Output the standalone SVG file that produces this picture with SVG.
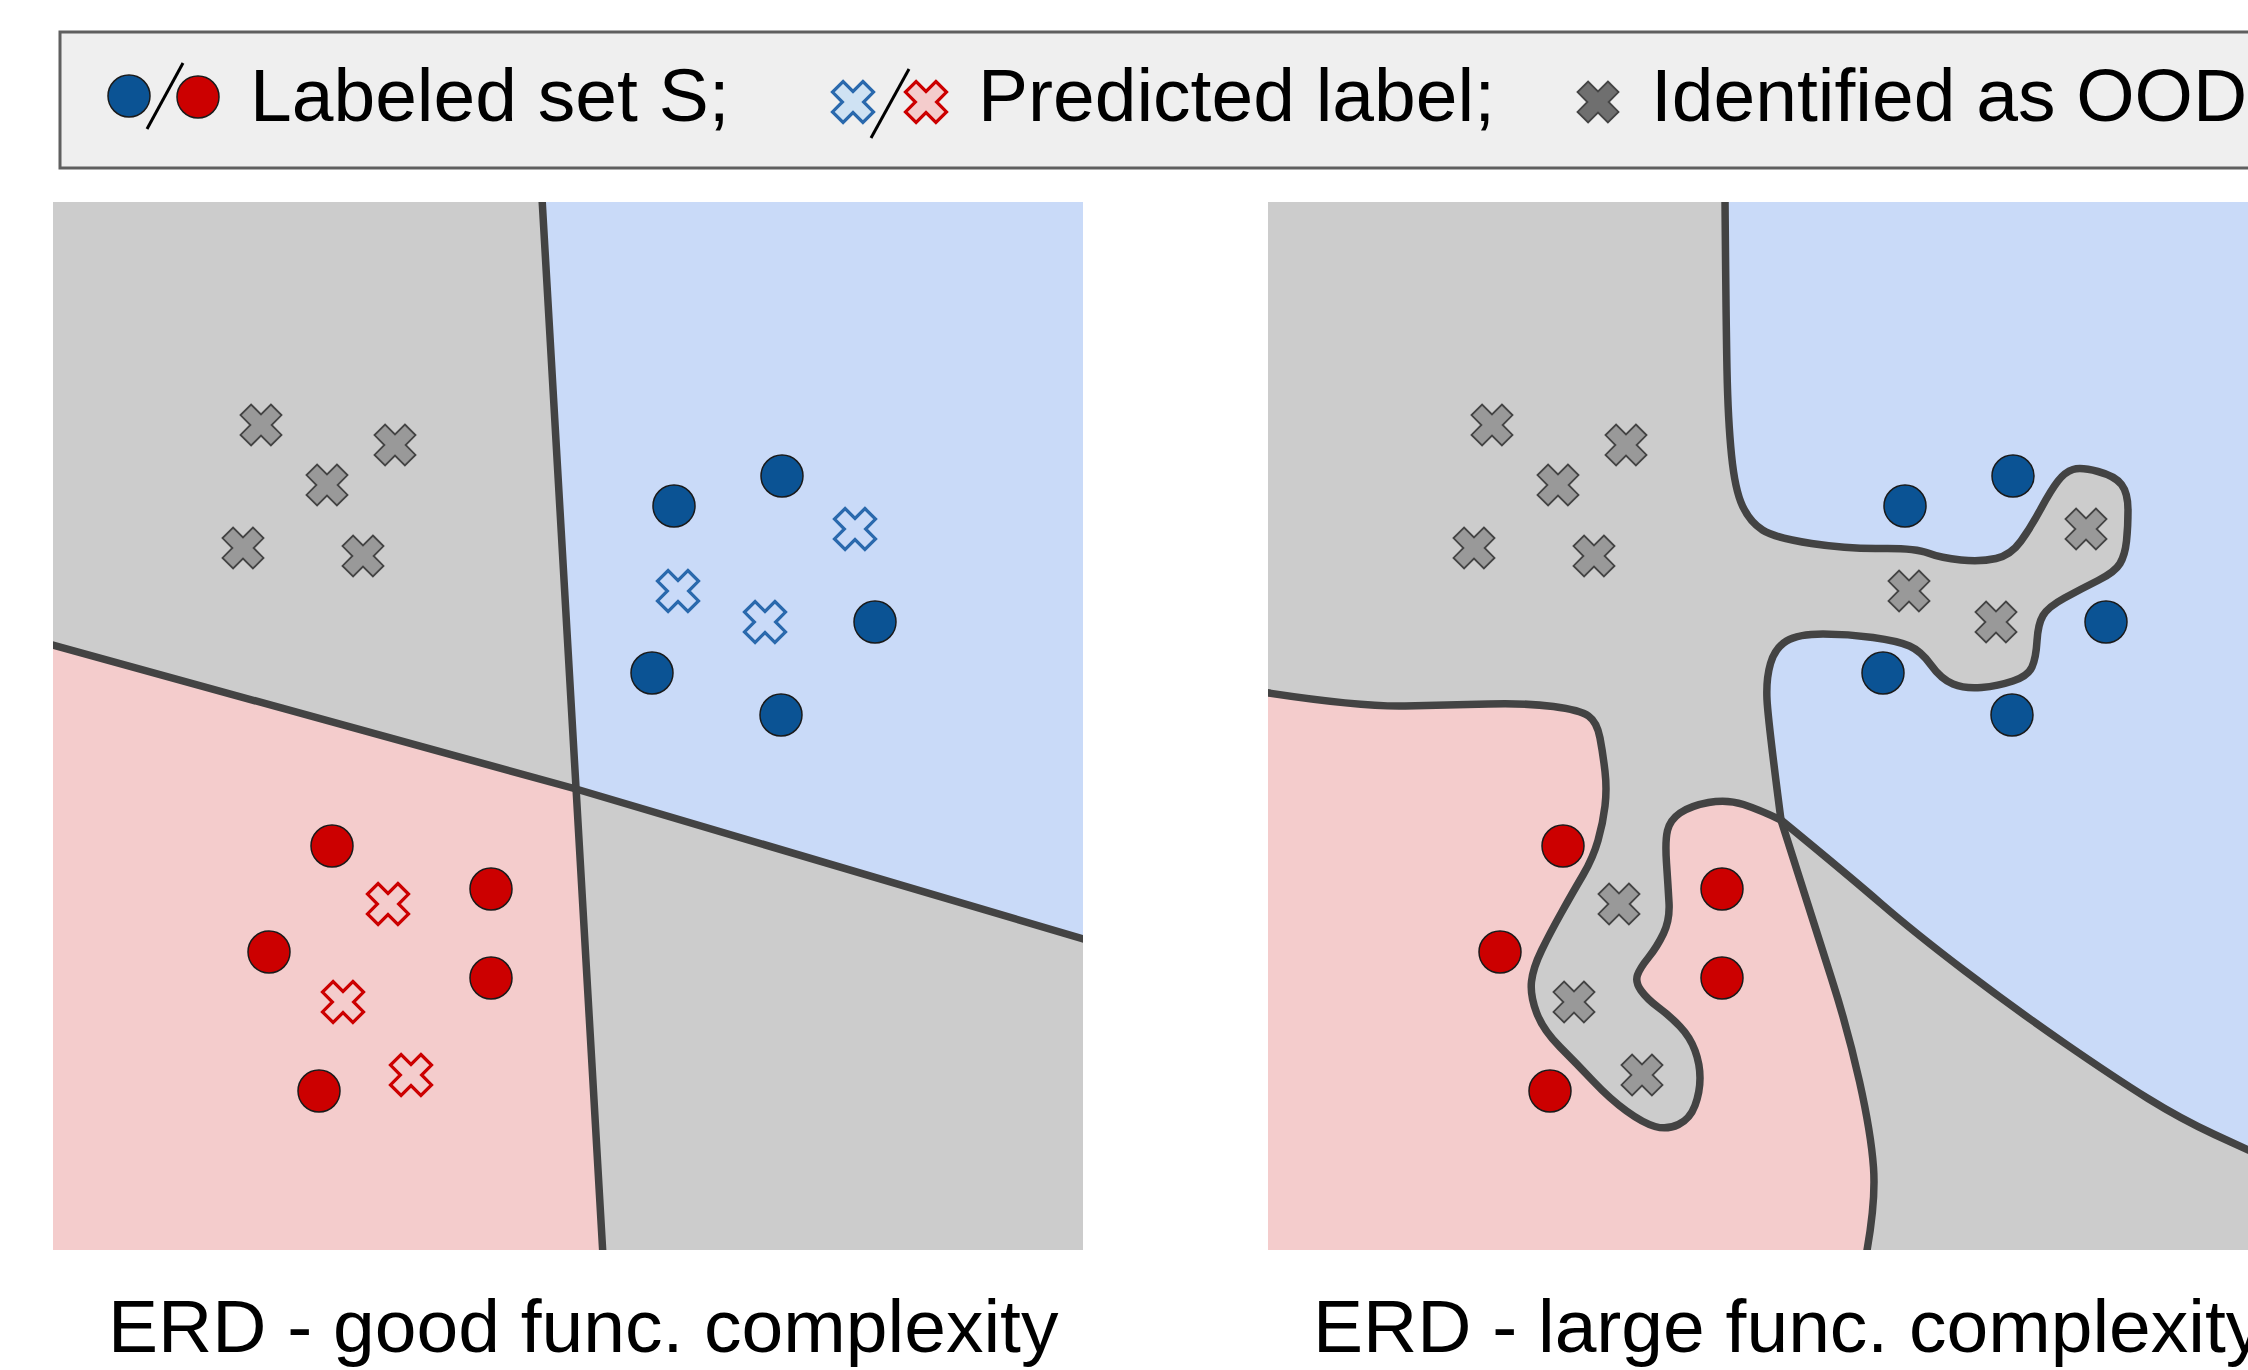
<svg xmlns="http://www.w3.org/2000/svg" xmlns:xlink="http://www.w3.org/1999/xlink" width="2248" height="1370" viewBox="0 0 2248 1370">
<style>
.txt{font-family:"Liberation Sans",Arial,Helvetica,sans-serif;font-size:75px;fill:#000}
.bnd{fill:none;stroke:#434343;stroke-width:7.5;stroke-linejoin:round;stroke-linecap:round}
.gray{fill:#cccccc}
.blue{fill:#c9daf8}
.pink{fill:#f4cccc}
.cb{fill:#0b5394;stroke:#1a1a1a;stroke-width:1.5}
.cr{fill:#cc0000;stroke:#1a1a1a;stroke-width:1.5}
.ood{fill:#999999;stroke:#444444;stroke-width:1.8}
.pb{fill:#c9daf8;stroke:#2a69ad;stroke-width:3.2}
.pr{fill:#f4cccc;stroke:#cc0000;stroke-width:3.2}
</style>
<defs>
<path id="x" d="M-7.5,-21.5H7.5V-7.5H21.5V7.5H7.5V21.5H-7.5V7.5H-21.5V-7.5H-7.5Z" transform="rotate(45)"/>
<clipPath id="clipL"><rect x="53" y="202" width="1030" height="1048"/></clipPath>
<clipPath id="clipR"><rect x="1268" y="202" width="990" height="1048"/></clipPath>
</defs>
<rect width="2248" height="1370" fill="#ffffff"/>

<g id="legend">
<rect x="60" y="32" width="2210" height="136" fill="#efefef" stroke="#5f5f5f" stroke-width="3"/>
<circle class="cb" cx="129" cy="96" r="21"/>
<line x1="183" y1="63" x2="147" y2="129" stroke="#000" stroke-width="3"/>
<circle class="cr" cx="198" cy="97" r="21"/>
<text class="txt" x="250" y="121">Labeled set S;</text>
<use href="#x" x="853" y="102" class="pb" style="fill:#cfe2f3"/>
<line x1="909" y1="69" x2="871" y2="138" stroke="#000" stroke-width="3"/>
<use href="#x" x="926" y="102" class="pr"/>
<text class="txt" x="978" y="121">Predicted label;</text>
<use href="#x" x="1598" y="102" class="ood" style="fill:#6f6f6f"/>
<text class="txt" x="1651" y="121">Identified as OOD</text>
</g>

<g id="panel-left" clip-path="url(#clipL)">
<rect class="gray" x="53" y="202" width="1030" height="1048"/>
<polygon class="blue" points="542,202 1090,202 1090,941 576,789"/>
<polygon class="pink" points="45,643 576,789 602,1250 45,1250"/>
<g id="connectors-left">
<line class="bnd" x1="542" y1="198" x2="603" y2="1256"/>
<polyline class="bnd" points="45,643 576,789 1090,941"/>
</g>
<g id="ood-left">
<use href="#x" x="261" y="425" class="ood"/>
<use href="#x" x="395" y="445" class="ood"/>
<use href="#x" x="327" y="485" class="ood"/>
<use href="#x" x="243" y="548" class="ood"/>
<use href="#x" x="363" y="556" class="ood"/>
</g>
<g id="blue-left">
<circle class="cb" cx="674" cy="506" r="21"/>
<circle class="cb" cx="782" cy="476" r="21"/>
<circle class="cb" cx="875" cy="622" r="21"/>
<circle class="cb" cx="652" cy="673" r="21"/>
<circle class="cb" cx="781" cy="715" r="21"/>
<use href="#x" x="855" y="529" class="pb"/>
<use href="#x" x="678" y="591" class="pb"/>
<use href="#x" x="765" y="622" class="pb"/>
</g>
<g id="red-left">
<circle class="cr" cx="332" cy="846" r="21"/>
<circle class="cr" cx="491" cy="889" r="21"/>
<circle class="cr" cx="269" cy="952" r="21"/>
<circle class="cr" cx="491" cy="978" r="21"/>
<circle class="cr" cx="319" cy="1091" r="21"/>
<use href="#x" x="388" y="904" class="pr"/>
<use href="#x" x="343" y="1002" class="pr"/>
<use href="#x" x="411" y="1075" class="pr"/>
</g>
</g>

<g id="panel-right" clip-path="url(#clipR)">
<rect class="gray" x="1268" y="202" width="990" height="1048"/>
<path class="blue" d="M1725,198 Q1726,320 1727,370 Q1728,420 1731.5,455 Q1735,490 1742.5,506 Q1750,522 1762.5,530 Q1775,538 1811.5,543.5 Q1848,549 1881.5,548.5 Q1915,548 1928,553 Q1941,558 1961,560 Q1981,562 1996,558.5 Q2011,555 2021,541 Q2031,527 2041,508.5 Q2051,490 2058,481 Q2065,472 2073,469.5 Q2081,467 2098,471.5 Q2115,476 2121.5,484.5 Q2128,493 2128,510 Q2128,527 2126.5,541 Q2125,555 2120,563.5 Q2115,572 2098,580.5 Q2081,589 2064.5,598 Q2048,607 2043,615.5 Q2038,624 2037,641 Q2036,658 2032,667 Q2028,676 2013,681 Q1998,686 1981.5,687.5 Q1965,689 1953,684 Q1941,679 1931,665 Q1921,651 1909.5,646 Q1898,641 1873,637.5 Q1848,634 1823,634 Q1798,634 1786.5,641 Q1775,648 1770.5,663.5 Q1766,679 1767,699.5 Q1768,720 1781,820 Q1848,875 1881.5,904 Q1915,933 1965,971 Q2015,1009 2065,1043.5 Q2115,1078 2148,1098.5 Q2181,1119 2214.5,1134.5 Q2248,1150 2270,1160 L2270,198 Z"/>
<path class="pink" d="M1262,692 Q1360,707 1405,706 Q1450,705 1488.5,704 Q1527,703 1553.5,706.5 Q1580,710 1588.5,716 Q1597,722 1600,738 Q1603,754 1605,771.5 Q1607,789 1605,806 Q1603,823 1598,840.5 Q1593,858 1583,875 Q1573,892 1561.5,912.5 Q1550,933 1541.5,950.5 Q1533,968 1531.5,981.5 Q1530,995 1536.5,1012.5 Q1543,1030 1560,1047 Q1577,1064 1593.5,1081.5 Q1610,1099 1626.5,1111 Q1643,1123 1655,1126.5 Q1667,1130 1678.5,1124.5 Q1690,1119 1695,1105.5 Q1700,1092 1700,1078 Q1700,1064 1695,1050.5 Q1690,1037 1680,1026.5 Q1670,1016 1658.5,1007.5 Q1647,999 1641,990.5 Q1635,982 1637.5,975 Q1640,968 1648.5,957.5 Q1657,947 1663.5,933.5 Q1670,920 1669,902.5 Q1668,885 1666.5,863 Q1665,841 1667.5,830.5 Q1670,820 1680,813 Q1690,806 1708.5,802.5 Q1727,799 1743.5,804.5 Q1760,810 1781,820 Q1815,927 1831.5,978.5 Q1848,1030 1859.5,1081.5 Q1871,1133 1873.5,1167.5 Q1876,1202 1866,1256 L1262,1256 Z"/>
<g id="connectors-right">
<path class="bnd" d="M1725,198 Q1726,320 1727,370 Q1728,420 1731.5,455 Q1735,490 1742.5,506 Q1750,522 1762.5,530 Q1775,538 1811.5,543.5 Q1848,549 1881.5,548.5 Q1915,548 1928,553 Q1941,558 1961,560 Q1981,562 1996,558.5 Q2011,555 2021,541 Q2031,527 2041,508.5 Q2051,490 2058,481 Q2065,472 2073,469.5 Q2081,467 2098,471.5 Q2115,476 2121.5,484.5 Q2128,493 2128,510 Q2128,527 2126.5,541 Q2125,555 2120,563.5 Q2115,572 2098,580.5 Q2081,589 2064.5,598 Q2048,607 2043,615.5 Q2038,624 2037,641 Q2036,658 2032,667 Q2028,676 2013,681 Q1998,686 1981.5,687.5 Q1965,689 1953,684 Q1941,679 1931,665 Q1921,651 1909.5,646 Q1898,641 1873,637.5 Q1848,634 1823,634 Q1798,634 1786.5,641 Q1775,648 1770.5,663.5 Q1766,679 1767,699.5 Q1768,720 1781,820 Q1815,927 1831.5,978.5 Q1848,1030 1859.5,1081.5 Q1871,1133 1873.5,1167.5 Q1876,1202 1866,1256"/>
<path class="bnd" d="M1262,692 Q1360,707 1405,706 Q1450,705 1488.5,704 Q1527,703 1553.5,706.5 Q1580,710 1588.5,716 Q1597,722 1600,738 Q1603,754 1605,771.5 Q1607,789 1605,806 Q1603,823 1598,840.5 Q1593,858 1583,875 Q1573,892 1561.5,912.5 Q1550,933 1541.5,950.5 Q1533,968 1531.5,981.5 Q1530,995 1536.5,1012.5 Q1543,1030 1560,1047 Q1577,1064 1593.5,1081.5 Q1610,1099 1626.5,1111 Q1643,1123 1655,1126.5 Q1667,1130 1678.5,1124.5 Q1690,1119 1695,1105.5 Q1700,1092 1700,1078 Q1700,1064 1695,1050.5 Q1690,1037 1680,1026.5 Q1670,1016 1658.5,1007.5 Q1647,999 1641,990.5 Q1635,982 1637.5,975 Q1640,968 1648.5,957.5 Q1657,947 1663.5,933.5 Q1670,920 1669,902.5 Q1668,885 1666.5,863 Q1665,841 1667.5,830.5 Q1670,820 1680,813 Q1690,806 1708.5,802.5 Q1727,799 1743.5,804.5 Q1760,810 1781,820 Q1848,875 1881.5,904 Q1915,933 1965,971 Q2015,1009 2065,1043.5 Q2115,1078 2148,1098.5 Q2181,1119 2214.5,1134.5 Q2248,1150 2270,1160"/>
</g>
<g id="ood-right">
<use href="#x" x="1492" y="425" class="ood"/>
<use href="#x" x="1626" y="445" class="ood"/>
<use href="#x" x="1558" y="485" class="ood"/>
<use href="#x" x="1474" y="548" class="ood"/>
<use href="#x" x="1594" y="556" class="ood"/>
<use href="#x" x="2086" y="529" class="ood"/>
<use href="#x" x="1909" y="591" class="ood"/>
<use href="#x" x="1996" y="622" class="ood"/>
<use href="#x" x="1619" y="904" class="ood"/>
<use href="#x" x="1574" y="1002" class="ood"/>
<use href="#x" x="1642" y="1075" class="ood"/>
</g>
<g id="blue-right">
<circle class="cb" cx="1905" cy="506" r="21"/>
<circle class="cb" cx="2013" cy="476" r="21"/>
<circle class="cb" cx="2106" cy="622" r="21"/>
<circle class="cb" cx="1883" cy="673" r="21"/>
<circle class="cb" cx="2012" cy="715" r="21"/>
</g>
<g id="red-right">
<circle class="cr" cx="1563" cy="846" r="21"/>
<circle class="cr" cx="1722" cy="889" r="21"/>
<circle class="cr" cx="1500" cy="952" r="21"/>
<circle class="cr" cx="1722" cy="978" r="21"/>
<circle class="cr" cx="1550" cy="1091" r="21"/>
</g>
</g>

<g id="captions">
<text class="txt" x="108" y="1352">ERD - good func. complexity</text>
<text class="txt" x="1313" y="1352">ERD - large func. complexity</text>
</g>
</svg>
